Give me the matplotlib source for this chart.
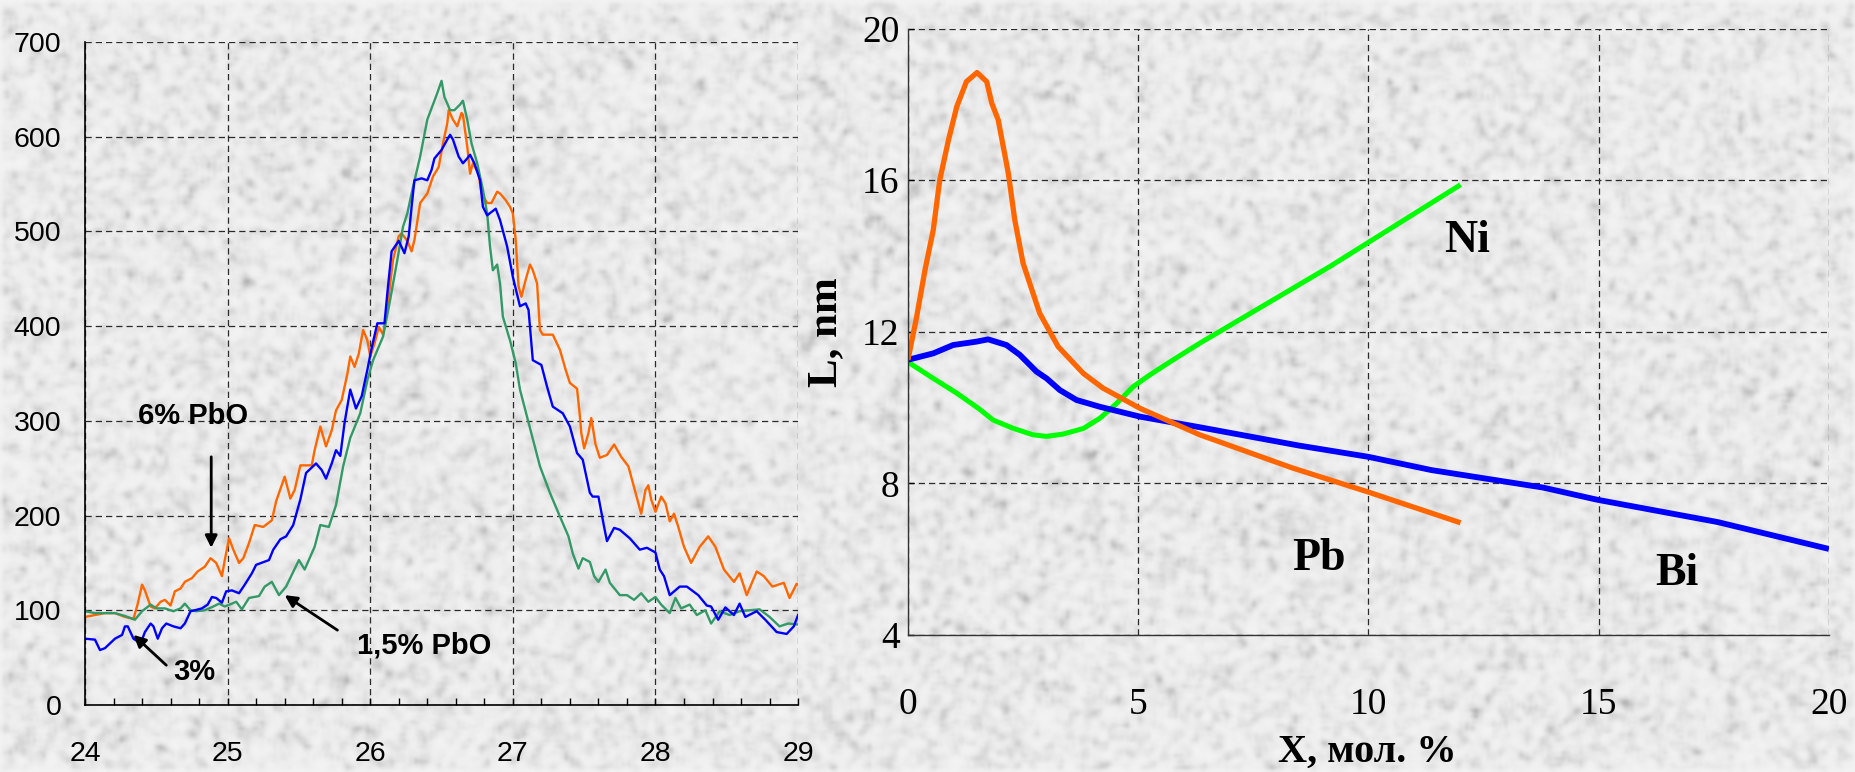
import numpy as np
import matplotlib
matplotlib.use('Agg')
import matplotlib.pyplot as plt
from matplotlib.ticker import MultipleLocator

# --- XRD peak (left) ---
x_6 = [24.00, 24.07, 24.14, 24.21, 24.28, 24.34, 24.37, 24.40, 24.42, 24.46, 24.49, 24.53, 24.56, 24.60,
       24.63, 24.67, 24.70, 24.75, 24.79, 24.84, 24.88, 24.92, 24.96, 24.98, 25.01, 25.04, 25.08, 25.11,
       25.15, 25.19, 25.25, 25.31, 25.34, 25.40, 25.44, 25.47, 25.51, 25.59, 25.61, 25.65, 25.69, 25.73,
       25.76, 25.80, 25.84, 25.86, 25.89, 25.92, 25.95, 25.98, 26.00, 26.03, 26.06, 26.09, 26.12, 26.16,
       26.20, 26.22, 26.26, 26.29, 26.31, 26.35, 26.40, 26.44, 26.48, 26.51, 26.54, 26.55, 26.58, 26.61,
       26.64, 26.65, 26.68, 26.70, 26.72, 26.76, 26.78, 26.82, 26.85, 26.89, 26.91, 26.95, 26.98, 27.00,
       27.02, 27.04, 27.06, 27.09, 27.12, 27.14, 27.17, 27.19, 27.21, 27.28, 27.33, 27.37, 27.40, 27.45,
       27.47, 27.48, 27.50, 27.53, 27.55, 27.58, 27.61, 27.66, 27.71, 27.76, 27.81, 27.86, 27.90, 27.93,
       27.95, 27.97, 28.00, 28.04, 28.07, 28.10, 28.13, 28.16, 28.20, 28.25, 28.31, 28.37, 28.42, 28.48,
       28.55, 28.59, 28.64, 28.71, 28.76, 28.82, 28.90, 28.94, 28.99, 29.00]
i_6 = [93, 95, 97, 97, 93, 91, 107, 127, 121, 104, 102, 109, 111, 105,
       120, 123, 130, 134, 141, 146, 155, 150, 136, 153, 176, 164, 150, 155,
       171, 190, 188, 195, 215, 241, 218, 227, 253, 253, 269, 294, 273, 290,
       311, 322, 350, 368, 357, 371, 396, 385, 368, 382, 399, 391, 420, 470,
       495, 498, 490, 479, 491, 530, 540, 558, 568, 593, 614, 628, 618, 611,
       625, 623, 590, 561, 572, 561, 540, 530, 530, 542, 540, 533, 526, 519,
       491, 442, 431, 449, 465, 459, 445, 396, 391, 391, 375, 354, 340, 334,
       305, 287, 271, 287, 303, 275, 261, 264, 275, 262, 252, 224, 202, 227,
       232, 217, 204, 220, 213, 194, 202, 188, 167, 150, 167, 178, 167, 143,
       130, 139, 116, 141, 136, 125, 129, 113, 128, 127]

x_3 = [24.00, 24.07, 24.105, 24.14, 24.21, 24.26, 24.28, 24.30, 24.34, 24.39, 24.42, 24.46, 24.48, 24.51,
       24.54, 24.57, 24.62, 24.67, 24.70, 24.74, 24.77, 24.82, 24.86, 24.89, 24.92, 24.96, 24.99, 25.03,
       25.08, 25.12, 25.17, 25.20, 25.29, 25.32, 25.37, 25.41, 25.46, 25.51, 25.55, 25.62, 25.66, 25.69,
       25.73, 25.76, 25.79, 25.82, 25.86, 25.90, 25.94, 25.98, 26.01, 26.05, 26.10, 26.12, 26.15, 26.20,
       26.24, 26.27, 26.29, 26.31, 26.36, 26.40, 26.43, 26.45, 26.50, 26.54, 26.56, 26.58, 26.62, 26.65,
       26.68, 26.70, 26.73, 26.77, 26.79, 26.82, 26.88, 26.91, 26.96, 27.00, 27.05, 27.09, 27.11, 27.14,
       27.20, 27.24, 27.28, 27.35, 27.40, 27.45, 27.49, 27.54, 27.56, 27.60, 27.64, 27.66, 27.71, 27.75,
       27.82, 27.89, 27.94, 28.00, 28.03, 28.06, 28.10, 28.17, 28.22, 28.30, 28.36, 28.39, 28.44, 28.49,
       28.55, 28.59, 28.63, 28.71, 28.77, 28.85, 28.92, 28.97, 29.00]
i_3 = [70, 69, 58, 60, 70, 74, 83, 83, 70, 65, 77, 86, 83, 70,
       81, 86, 83, 81, 86, 99, 100, 102, 106, 114, 113, 108, 120, 121,
       118, 127, 139, 148, 153, 164, 175, 178, 190, 217, 245, 255, 248, 239,
       255, 269, 263, 298, 333, 313, 326, 354, 377, 403, 403, 435, 479, 490,
       477, 495, 526, 554, 556, 554, 565, 577, 586, 597, 602, 597, 579, 572,
       577, 581, 572, 554, 526, 517, 524, 512, 484, 452, 421, 424, 417, 364,
       359, 336, 315, 308, 294, 266, 259, 224, 220, 220, 188, 173, 187, 185,
       176, 164, 166, 161, 143, 136, 116, 125, 125, 116, 105, 104, 90, 103,
       95, 107, 93, 99, 90, 77, 75, 83, 95]

x_15 = [24.00, 24.07, 24.21, 24.28, 24.35, 24.40, 24.46, 24.50, 24.56, 24.62, 24.67, 24.70, 24.74, 24.78,
        24.84, 24.90, 24.94, 24.98, 25.03, 25.06, 25.10, 25.15, 25.22, 25.26, 25.31, 25.36, 25.41, 25.50,
        25.54, 25.61, 25.65, 25.71, 25.76, 25.81, 25.86, 25.93, 25.98, 26.02, 26.09, 26.14, 26.19, 26.23,
        26.26, 26.30, 26.35, 26.40, 26.43, 26.47, 26.50, 26.52, 26.56, 26.59, 26.63, 26.65, 26.68, 26.71,
        26.75, 26.79, 26.82, 26.84, 26.86, 26.89, 26.91, 26.93, 26.98, 27.02, 27.05, 27.10, 27.19, 27.26,
        27.33, 27.39, 27.42, 27.46, 27.49, 27.54, 27.57, 27.60, 27.65, 27.68, 27.75, 27.80, 27.85, 27.90,
        27.95, 28.00, 28.04, 28.10, 28.14, 28.18, 28.24, 28.29, 28.35, 28.39, 28.45, 28.52, 28.59, 28.66,
        28.73, 28.80, 28.87, 28.93, 29.00]
i_15 = [99, 97, 97, 94, 90, 99, 106, 102, 102, 99, 102, 107, 100, 99,
        100, 104, 107, 104, 107, 109, 101, 113, 115, 125, 130, 116, 125, 153,
        143, 167, 190, 188, 211, 252, 282, 308, 343, 364, 389, 428, 470, 505,
        519, 547, 579, 618, 630, 646, 659, 642, 628, 628, 634, 638, 618, 593,
        572, 544, 519, 484, 459, 465, 445, 410, 385, 361, 333, 304, 252, 224,
        199, 178, 160, 144, 155, 151, 136, 130, 143, 129, 116, 116, 111, 118,
        109, 114, 106, 97, 113, 102, 106, 95, 100, 86, 99, 95, 99, 100,
        101, 93, 83, 86, 85]

# --- crystallite size L vs dopant content (right) ---
x_pb = [0, 0.19, 0.37, 0.55, 0.69, 0.88, 1.06, 1.27, 1.5, 1.71, 1.82, 1.96, 2.18, 2.32, 2.5, 2.86,
        3.26, 3.81, 4.24, 5.04, 6.34, 6.55, 8.34, 10.0, 12.0]
l_pb = [11.26, 12.4, 13.63, 14.69, 16.0, 17.06, 17.94, 18.6, 18.84, 18.6, 18.03, 17.59, 16.18, 14.95,
        13.81, 12.49, 11.61, 10.9, 10.51, 9.98, 9.28, 9.19, 8.41, 7.77, 6.96]

x_bi = [0, 0.55, 0.98, 1.49, 1.74, 2.14, 2.43, 2.79, 3.01, 3.3, 3.66, 4.17, 5.04, 6.34, 8.48, 10.0,
        11.37, 13.79, 14.96, 17.58, 20.0]
l_bi = [11.26, 11.43, 11.65, 11.74, 11.8, 11.65, 11.39, 10.95, 10.77, 10.46, 10.2, 10.02, 9.76, 9.48,
        9.0, 8.7, 8.35, 7.89, 7.57, 6.98, 6.27]

x_ni = [0, 0.55, 1.06, 1.53, 1.85, 2.29, 2.72, 3.01, 3.37, 3.81, 4.17, 4.53, 4.89, 5.25, 5.76, 6.34,
        9.16, 12.0]
l_ni = [11.2, 10.77, 10.38, 9.98, 9.67, 9.45, 9.28, 9.24, 9.3, 9.45, 9.72, 10.11, 10.55, 10.86, 11.26,
        11.7, 13.72, 15.88]

fig = plt.figure(figsize=(18.56, 7.72), dpi=100)

# granite-like backdrop
rng = np.random.default_rng(11)
speck = rng.random((257, 618))
k = np.ones(3) / 3
speck = np.apply_along_axis(lambda r: np.convolve(r, k, mode='same'), 1, speck)
speck = np.apply_along_axis(lambda c: np.convolve(c, k, mode='same'), 0, speck)
tex = 0.95 - 0.55 * speck ** 4
bg = fig.add_axes([0, 0, 1, 1], zorder=-10)
bg.imshow(tex, cmap='gray', vmin=0, vmax=1, aspect='auto', interpolation='bicubic')
bg.axis('off')

grid_kw = dict(color='#2a2a2a', linewidth=0.9, linestyle=(0, (5, 3.2)))
sans = 'Liberation Sans'
serif = 'Liberation Serif'

# left panel
ax1 = fig.add_axes([0.0458, 0.0868, 0.3842, 0.8588])
ax1.set_facecolor('none')
ax1.plot(x_6, i_6, color='#ff6600', lw=1.7)
ax1.plot(x_15, i_15, color='#339966', lw=1.7)
ax1.plot(x_3, i_3, color='#0000ff', lw=1.7)
ax1.set_xlim(24, 29)
ax1.set_ylim(0, 700)
ax1.xaxis.set_major_locator(MultipleLocator(1))
ax1.xaxis.set_minor_locator(MultipleLocator(0.2))
ax1.yaxis.set_major_locator(MultipleLocator(100))
ax1.grid(True, which='major', **grid_kw)
for s in ('top', 'right'):
    ax1.spines[s].set_visible(False)
for s in ('left', 'bottom'):
    ax1.spines[s].set_linewidth(1.2)
ax1.tick_params(axis='x', which='both', direction='in', length=5, width=1, pad=26)
ax1.tick_params(axis='y', length=0, pad=17)
for lab in ax1.get_xticklabels() + ax1.get_yticklabels():
    lab.set_fontfamily(sans)
    lab.set_fontsize(20.5)

lbl_kw = dict(family=sans, fontsize=21, fontweight='bold', ha='center', va='center')
arr_kw = dict(arrowstyle='-|>', color='black', lw=2, mutation_scale=18, shrinkA=0, shrinkB=0)
ax1.text(24.76, 305, '6% PbO', **lbl_kw)
ax1.annotate('', xy=(24.885, 166), xytext=(24.885, 262), arrowprops=arr_kw)
ax1.text(26.38, 63, '1,5% PbO', **lbl_kw)
ax1.annotate('', xy=(25.40, 116), xytext=(25.77, 79), arrowprops=arr_kw)
ax1.text(24.77, 35, '3%', **lbl_kw)
ax1.annotate('', xy=(24.34, 74), xytext=(24.57, 42), arrowprops=arr_kw)

# right panel
ax2 = fig.add_axes([0.4892, 0.1775, 0.4962, 0.7855])
ax2.set_facecolor('none')
ax2.plot(x_ni, l_ni, color='#00ff00', lw=3.6, solid_capstyle='butt')
ax2.plot(x_bi, l_bi, color='#0000ff', lw=4.2, solid_capstyle='butt')
ax2.plot(x_pb, l_pb, color='#ff6600', lw=3.8, solid_capstyle='butt')
ax2.set_xlim(0, 20)
ax2.set_ylim(4, 20)
ax2.xaxis.set_major_locator(MultipleLocator(5))
ax2.yaxis.set_major_locator(MultipleLocator(4))
ax2.grid(True, which='major', **grid_kw)
for s in ('top', 'right'):
    ax2.spines[s].set_visible(False)
for s in ('left', 'bottom'):
    ax2.spines[s].set_linewidth(1.0)
    ax2.spines[s].set_color('#333333')
ax2.tick_params(axis='x', length=0, pad=38)
ax2.tick_params(axis='y', direction='in', length=4, width=1, pad=6)
for lab in ax2.get_xticklabels() + ax2.get_yticklabels():
    lab.set_fontfamily(serif)
    lab.set_fontsize(27)

ax2.set_ylabel('L, nm', family=serif, fontsize=31, fontweight='bold', labelpad=12)
# x label sits close to the lower edge of the figure
fig.text(1367 / 1856, 10 / 772, 'X, мол. %', family=serif, fontsize=29, fontweight='bold',
         ha='center', va='baseline')

el_kw = dict(family=serif, fontsize=33, fontweight='bold', ha='center', va='center')
ax2.text(12.14, 14.4, 'Ni', **el_kw)
ax2.text(8.93, 6.0, 'Pb', **el_kw)
ax2.text(16.7, 5.62, 'Bi', **el_kw)

fig.savefig('out.png', dpi=100)
